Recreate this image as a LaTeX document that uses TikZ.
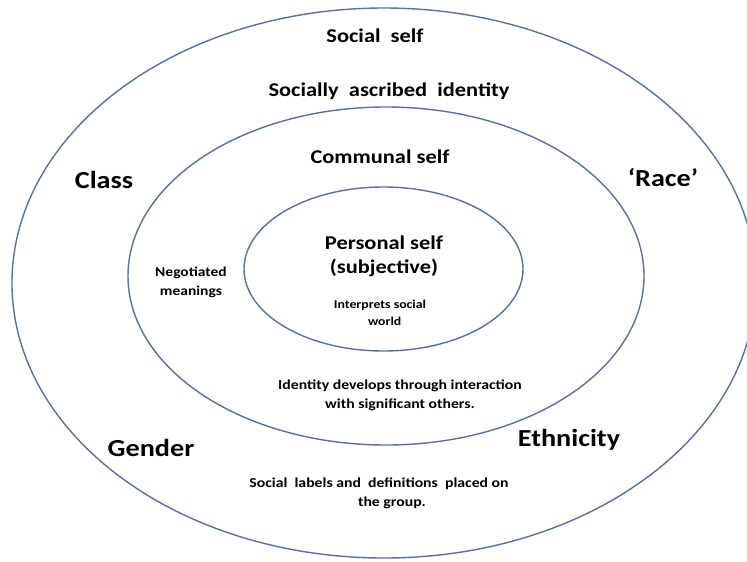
\documentclass[tikz,border=0pt]{standalone}
\usepackage{fontspec}
\setmainfont{Carlito}[FakeStretch=1.15]
\begin{document}
\begin{tikzpicture}[x=1pt,y=-1pt]
\definecolor{ringblue}{RGB}{86,114,158}
\tikzset{
  ring/.style={draw=ringblue,line width=1.4pt},
  big/.style={font=\bfseries\fontsize{24.5}{28}\selectfont,inner sep=0pt},
  mid/.style={font=\bfseries\fontsize{19.5}{24}\selectfont,inner sep=0pt},
  small/.style={font=\bfseries\fontsize{13.7}{19}\selectfont,inner sep=0pt,align=center},
  tiny/.style={font=\bfseries\fontsize{12}{17}\selectfont,inner sep=0pt,align=center},
}
\useasboundingbox (0,0) rectangle (747,562);
\fill[white] (0,0) rectangle (747,562);
\draw[ring] (384,283) ellipse [x radius=372pt, y radius=275pt];
\draw[ring] (386,276) ellipse [x radius=258pt, y radius=169pt];
\draw[ring] (383.5,269) ellipse [x radius=139.5pt, y radius=82pt];
\node[mid] (social) at (375,36) {Social\ \ self};
\node[mid] (ascribed) at (389,91) {Socially\ \ ascribed\ \ identity};
\node[mid] (communal) at (380,157) {Communal self};
\node[mid,align=center] (personal) at (384,256) {Personal self\\(subjective)};
\node[big] (class) at (104,180) {Class};
\node[big] (race) at (663,178) {‘Race’};
\node[big] (gender) at (151,448) {Gender};
\node[big] (ethnicity) at (569,440) {Ethnicity};
\node[tiny,font=\bfseries\fontsize{13.5}{19}\selectfont] (negotiated) at (191,282) {Negotiated\\meanings};
\node[tiny] (interprets) at (380,313) {Interprets social\\\ \ \ world};
\node[small] (identity) at (400,395) {Identity develops through interaction\\with significant others.};
\node[small] (labels) at (379,493) {Social\ \ labels and\ \ definitions\ \ placed on\\\hspace*{26pt}the group.};
\end{tikzpicture}
\end{document}
